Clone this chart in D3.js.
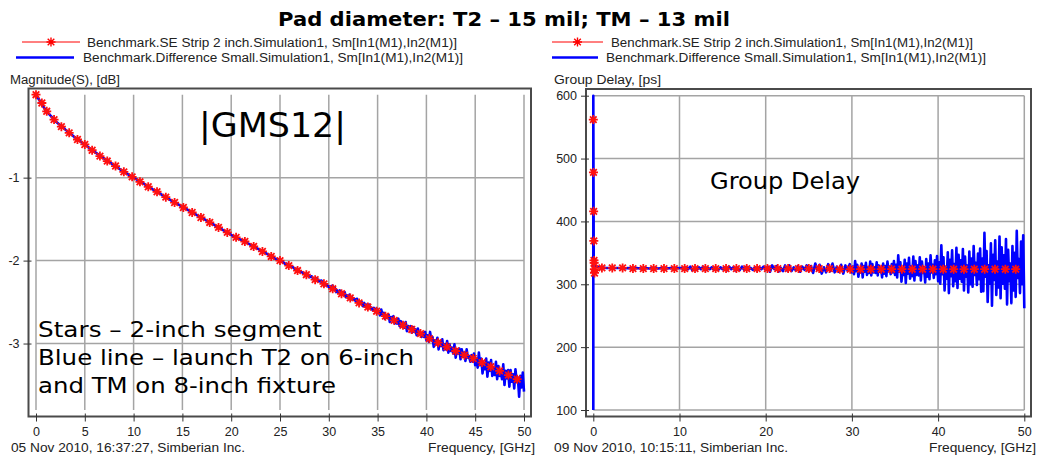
<!DOCTYPE html>
<html>
<head>
<meta charset="utf-8">
<script src="https://cdn.jsdelivr.net/npm/d3@7"></script>
<style>
  body { margin: 0; background: #fff; }
  text { font-family: "Liberation Sans", Arial, sans-serif; fill: #222; }
  .big { font-family: "DejaVu Sans", Verdana, sans-serif; fill: #000; }
</style>
</head>
<body>
<svg id="chart" width="1039" height="460"></svg>
<script>
// ---------- data: left panel |GMS12| (dB) ----------
const magTicksX = [0, 5, 10, 15, 20, 25, 30, 35, 40, 45, 50]
const magTicksY = [-1, -2, -3]
const magRedFreq = [0, 0.6, 1.1, 1.85, 2.6, 3.4, 4.25, 5.0, 5.75, 6.55, 7.3, 8.15, 9.0, 9.85, 10.65, 11.5, 12.4, 13.3, 14.2, 15.1,
  16.0, 16.9, 17.8, 18.7, 19.6, 20.5, 21.4, 22.3, 23.2, 24.1, 25.0, 25.9, 26.8, 27.7, 28.6, 29.5, 30.4, 31.3, 32.2, 33.1,
  34.0, 34.9, 35.8, 36.7, 37.6, 38.5, 39.4, 40.3, 41.2, 42.1, 43.0, 43.9, 44.8, 45.7, 46.6, 47.5, 48.4, 49.3]
const magRedDb = [0, -0.10, -0.20, -0.30, -0.385, -0.46, -0.54, -0.60, -0.67, -0.74, -0.80, -0.86, -0.93, -0.99, -1.05, -1.11, -1.17, -1.235, -1.30, -1.36,
  -1.42, -1.48, -1.54, -1.60, -1.66, -1.72, -1.77, -1.83, -1.89, -1.95, -2.00, -2.06, -2.12, -2.17, -2.23, -2.28, -2.34, -2.40, -2.45, -2.51,
  -2.56, -2.61, -2.67, -2.72, -2.78, -2.83, -2.88, -2.94, -2.99, -3.04, -3.09, -3.14, -3.18, -3.23, -3.28, -3.33, -3.38, -3.43]
// blue trace, smooth part (1 GHz spacing)
const magBlueFreqA = [0, 1, 2, 3, 4, 5, 6, 7, 8, 9, 10, 11, 12, 13, 14, 15, 16, 17, 18, 19, 20, 21, 22, 23, 24]
const magBlueDbA = [0, -0.19, -0.32, -0.42, -0.515, -0.60, -0.69, -0.77, -0.85, -0.93, -1.00, -1.07, -1.145, -1.215, -1.285, -1.35,
  -1.42, -1.485, -1.55, -1.62, -1.69, -1.75, -1.81, -1.875, -1.94]
// blue trace, 24.25 .. 30 GHz (0.25 GHz spacing)
const magBlueStartB = 24.25, magBlueStepB = 0.25
const magBlueDbB = [
  -1.95, -1.98, -1.98, -2.00, -2.01, -2.04, -2.04, -2.07, -2.07, -2.10, -2.10, -2.13, -2.14, -2.16, -2.16, -2.20,
  -2.19, -2.23, -2.21, -2.25, -2.24, -2.30, -2.29, -2.32]
// blue trace, noisy part 30.125 .. 50 GHz (0.125 GHz spacing)
const magBlueStartC = 30.125, magBlueStepC = 0.125
const magBlueDbC = [
  -2.31, -2.34, -2.30, -2.34, -2.33, -2.38, -2.36, -2.38, -2.36, -2.41, -2.38, -2.41, -2.38, -2.44, -2.42, -2.45, -2.41, -2.47, -2.44, -2.47,
  -2.46, -2.49, -2.46, -2.52, -2.49, -2.51, -2.50, -2.55, -2.51, -2.55, -2.53, -2.58, -2.53, -2.57, -2.57, -2.60, -2.57, -2.61, -2.58, -2.63,
  -2.61, -2.66, -2.59, -2.65, -2.63, -2.70, -2.66, -2.69, -2.65, -2.74, -2.68, -2.72, -2.67, -2.76, -2.72, -2.76, -2.70, -2.79, -2.73, -2.79,
  -2.76, -2.81, -2.74, -2.85, -2.79, -2.82, -2.79, -2.87, -2.80, -2.86, -2.83, -2.90, -2.82, -2.88, -2.87, -2.92, -2.87, -2.92, -2.86, -2.96,
  -2.90, -2.98, -2.86, -2.96, -2.92, -3.04, -2.96, -3.01, -2.93, -3.07, -2.97, -3.03, -2.95, -3.08, -3.01, -3.07, -2.97, -3.11, -3.01, -3.09,
  -3.05, -3.12, -3.01, -3.17, -3.07, -3.12, -3.06, -3.19, -3.07, -3.16, -3.11, -3.21, -3.07, -3.17, -3.15, -3.22, -3.14, -3.22, -3.12, -3.26,
  -3.18, -3.29, -3.11, -3.26, -3.18, -3.36, -3.24, -3.31, -3.18, -3.40, -3.23, -3.33, -3.20, -3.39, -3.29, -3.38, -3.22, -3.43, -3.27, -3.39,
  -3.33, -3.43, -3.25, -3.50, -3.33, -3.42, -3.32, -3.52, -3.32, -3.46, -3.37, -3.54, -3.31, -3.46, -3.41, -3.64, -3.39, -3.53, -3.35, -3.58]

// ---------- data: right panel group delay (ps) ----------
const gdTicksX = [0, 10, 20, 30, 40, 50]
const gdTicksY = [100, 200, 300, 400, 500, 600]
const gdRedFreq = [0, 0.02, 0.04, 0.06, 0.08, 0.10, 0.12, 0.14,
  1.0, 2.2, 3.4, 4.6, 5.8, 7.0, 8.2, 9.4, 10.6, 11.8, 13.0, 14.2, 15.4, 16.6, 17.8, 19.0, 20.2, 21.4, 22.6, 23.8,
  25.0, 26.2, 27.4, 28.6, 29.8, 31.0, 32.2, 33.4, 34.6, 35.8, 37.0, 38.2, 39.4, 40.6, 41.8, 43.0, 44.2, 45.4, 46.6, 47.8, 49.0]
const gdRedPs = [562, 478, 416, 369, 338, 334, 324, 318,
  326, 326, 326, 325, 325, 325, 325, 325, 325, 325, 325, 325, 325, 325, 325, 325, 325, 325, 325, 325,
  325, 325, 325, 324, 324, 324, 324, 324, 324, 324, 324, 324, 324, 324, 324, 324, 324, 324, 324, 324, 324]
// blue trace: spike at DC, then 0.5 GHz spacing to 10 GHz
const gdBlueHeadFreq = [0, 0, 0.05]
const gdBlueHeadPs = [100, 600, 330]
const gdBlueStartB = 0.5, gdBlueStepB = 0.5
const gdBluePsB = [328, 327, 326, 326, 326, 326, 325, 326, 325, 326, 325, 326, 325, 326, 325, 326, 325, 326, 325, 326]
// 10.25 .. 30 GHz, 0.25 GHz spacing
const gdBlueStartC = 10.25, gdBlueStepC = 0.25
const gdBluePsC = [
  326, 323, 327, 324, 328, 322, 325, 323, 327, 324, 328, 322, 326, 324, 327, 323, 326, 323, 327, 324,
  327, 322, 328, 324, 327, 322, 326, 323, 328, 323, 328, 323, 326, 323, 327, 322, 327, 324, 328, 323,
  328, 320, 330, 324, 329, 320, 326, 321, 330, 322, 330, 321, 327, 322, 329, 320, 328, 323, 330, 321,
  329, 318, 333, 323, 331, 317, 327, 319, 332, 321, 333, 319, 328, 320, 331, 317, 330, 322, 332, 319]
// 30.125 .. 50 GHz, 0.125 GHz spacing
const gdBlueStartD = 30.125, gdBlueStepD = 0.125
const gdBluePsD = [
  328, 316, 337, 321, 331, 312, 325, 319, 333, 311, 329, 320, 334, 315, 327, 318, 336, 314, 332, 319,
  327, 318, 335, 314, 330, 320, 326, 311, 333, 317, 329, 313, 336, 321, 328, 316, 332, 319, 337, 315,
  331, 311, 346, 320, 335, 304, 326, 315, 339, 302, 333, 317, 342, 309, 328, 313, 344, 306, 337, 315,
  330, 314, 343, 306, 336, 318, 327, 303, 340, 312, 333, 308, 346, 319, 331, 310, 338, 316, 345, 305,
  335, 301, 362, 316, 343, 290, 328, 309, 351, 286, 339, 313, 354, 297, 332, 305, 358, 294, 347, 309,
  338, 304, 356, 290, 344, 312, 330, 287, 352, 300, 341, 296, 361, 315, 334, 299, 349, 308, 357, 288,
  341, 289, 382, 312, 353, 272, 330, 301, 365, 266, 347, 307, 370, 283, 336, 295, 376, 278, 359, 301,
  346, 293, 372, 268, 355, 305, 333, 270, 361, 290, 350, 280, 385, 310, 340, 286, 368, 300, 378, 262]

const legendRed = 'Benchmark.SE Strip 2 inch.Simulation1, Sm[In1(M1),In2(M1)]'
const legendBlue = 'Benchmark.Difference Small.Simulation1, Sm[In1(M1),In2(M1)]'

// ---------- helpers ----------
const svg = d3.select('#chart')
const pairs = (xs, ys) => xs.map((f, i) => [f, ys[i]])
const stepped = (start, step, ys) => ys.map((v, i) => [start + i * step, v])
const starPath = 'M-4.5,0H4.5M0,-4.5V4.5M-3.3,-3.3L3.3,3.3M-3.3,3.3L3.3,-3.3'

function drawPanel(p) {
    const x = d3.scaleLinear().domain([0, 50]).range(p.xRange)
    const y = d3.scaleLinear().domain(p.yDomain).range(p.yRange)
    const g = svg.append('g')
    const yTop = p.yRange[1], yBot = p.yRange[0]

    // grid
    g.selectAll('.vg').data(p.ticksX).join('line')
        .attr('x1', d => x(d)).attr('x2', d => x(d)).attr('y1', yTop).attr('y2', yBot)
        .attr('stroke', '#a4a4a4').attr('stroke-width', 1.5)
    g.selectAll('.hg').data(p.ticksY).join('line')
        .attr('x1', p.xRange[0]).attr('x2', p.xRange[1]).attr('y1', d => y(d)).attr('y2', d => y(d))
        .attr('stroke', '#a4a4a4').attr('stroke-width', 1.5)

    // frame
    const f = p.frame
    g.append('rect').attr('x', f[0]).attr('y', f[1]).attr('width', f[2] - f[0]).attr('height', f[3] - f[1])
        .attr('fill', 'none').attr('stroke', '#4a4a4a').attr('stroke-width', 2)

    // axes (ticks cross the frame)
    const fmt = d => String(d)
    const ax = g.append('g').attr('transform', `translate(${f[0] + 3},0)`)
        .call(d3.axisLeft(y).tickValues(p.ticksY).tickFormat(fmt).tickSize(8).tickPadding(4))
    const bx = g.append('g').attr('transform', `translate(0,${f[3] - 3})`)
        .call(d3.axisBottom(x).tickValues(p.ticksX).tickFormat(fmt).tickSize(8).tickPadding(6))
    for (const a of [ax, bx]) {
        a.select('.domain').remove()
        a.selectAll('line').attr('stroke', '#333')
        a.selectAll('text').attr('font-size', 12.5).attr('fill', '#222')
            .attr('font-family', '"Liberation Sans", Arial, sans-serif')
    }

    const line = d3.line().x(d => x(d[0])).y(d => y(d[1]))
    g.append('path').attr('d', line(p.red)).attr('fill', 'none').attr('stroke', '#ff0000').attr('stroke-width', 1)
    g.append('path').attr('d', line(p.blue)).attr('fill', 'none').attr('stroke', '#0000ff')
        .attr('stroke-width', 2.6).attr('stroke-linejoin', 'round')
    g.selectAll('.star').data(p.red).join('path')
        .attr('transform', d => `translate(${x(d[0])},${y(d[1])})`)
        .attr('d', starPath).attr('stroke', '#ff1010').attr('stroke-width', 1.8).attr('fill', 'none')

    // legend
    const L = p.legend
    g.append('line').attr('x1', L.red[0]).attr('x2', L.red[1]).attr('y1', 42).attr('y2', 42)
        .attr('stroke', '#ff0000').attr('stroke-width', 1)
    g.append('path').attr('transform', `translate(${(L.red[0] + L.red[1]) / 2},42)`)
        .attr('d', starPath).attr('stroke', '#ff0000').attr('stroke-width', 1.4)
    g.append('text').attr('x', L.red[2]).attr('y', 47).attr('font-size', 12.5)
        .attr('textLength', L.red[3]).attr('lengthAdjust', 'spacingAndGlyphs').text(legendRed)
    g.append('line').attr('x1', L.blue[0]).attr('x2', L.blue[1]).attr('y1', 57.5).attr('y2', 57.5)
        .attr('stroke', '#0000ff').attr('stroke-width', 2.5)
    g.append('text').attr('x', L.blue[2]).attr('y', 62).attr('font-size', 12.5)
        .attr('textLength', L.blue[3]).attr('lengthAdjust', 'spacingAndGlyphs').text(legendBlue)

    // axis captions and footer
    g.append('text').attr('x', p.yLabel[0]).attr('y', 84).attr('font-size', 12.5)
        .attr('textLength', p.yLabel[2]).attr('lengthAdjust', 'spacingAndGlyphs').text(p.yLabel[1])
    g.append('text').attr('x', p.footer[0]).attr('y', 452).attr('font-size', 12.5)
        .attr('textLength', p.footer[2]).attr('lengthAdjust', 'spacingAndGlyphs').text(p.footer[1])
    g.append('text').attr('x', p.freqEnd).attr('y', 452).attr('font-size', 12.5).attr('text-anchor', 'end')
        .attr('textLength', 107).attr('lengthAdjust', 'spacingAndGlyphs').text('Frequency, [GHz]')
}

drawPanel({
    xRange: [36, 524], yDomain: [-3.8, 0], yRange: [409.9, 94.7],
    frame: [28.5, 88.5, 531, 416.5],
    ticksX: magTicksX, ticksY: magTicksY,
    red: pairs(magRedFreq, magRedDb),
    blue: pairs(magBlueFreqA, magBlueDbA)
        .concat(stepped(magBlueStartB, magBlueStepB, magBlueDbB))
        .concat(stepped(magBlueStartC, magBlueStepC, magBlueDbC)),
    legend: { red: [22, 80, 87, 370], blue: [16, 74, 83, 380] },
    yLabel: [10, 'Magnitude(S), [dB]', 110],
    footer: [11, '05 Nov 2010, 16:37:27, Simberian Inc.', 234],
    freqEnd: 535
})

drawPanel({
    xRange: [593.3, 1024.3], yDomain: [100, 600], yRange: [410, 95.7],
    frame: [586, 89, 1031, 416.5],
    ticksX: gdTicksX, ticksY: gdTicksY,
    red: pairs(gdRedFreq, gdRedPs),
    blue: pairs(gdBlueHeadFreq, gdBlueHeadPs)
        .concat(stepped(gdBlueStartB, gdBlueStepB, gdBluePsB))
        .concat(stepped(gdBlueStartC, gdBlueStepC, gdBluePsC))
        .concat(stepped(gdBlueStartD, gdBlueStepD, gdBluePsD)),
    legend: { red: [552, 603, 611, 362], blue: [552, 598, 606, 380] },
    yLabel: [554, 'Group Delay, [ps]', 107],
    footer: [554, '09 Nov 2010, 10:15:11, Simberian Inc.', 234],
    freqEnd: 1036
})

// ---------- title and annotations ----------
svg.append('text').attr('class', 'big').attr('x', 278).attr('y', 26)
    .attr('font-size', 19).attr('font-weight', 'bold')
    .attr('textLength', 452).attr('lengthAdjust', 'spacingAndGlyphs')
    .text('Pad diameter: T2 \u2013 15 mil; TM \u2013 13 mil')
svg.append('text').attr('class', 'big').attr('x', 199).attr('y', 137).attr('font-size', 34)
    .attr('textLength', 147).attr('lengthAdjust', 'spacingAndGlyphs').text('|GMS12|')
svg.append('text').attr('class', 'big').attr('x', 710).attr('y', 189).attr('font-size', 22.5)
    .attr('textLength', 150).attr('lengthAdjust', 'spacingAndGlyphs').text('Group Delay')
const notes = [
    ['Stars \u2013 2-inch segment', 284],
    ['Blue line \u2013 launch T2 on 6-inch', 376],
    ['and TM on 8-inch fixture', 298]
]
svg.selectAll('.note').data(notes).join('text').attr('class', 'big')
    .attr('x', 38).attr('y', (d, i) => 337 + i * 28).attr('font-size', 22)
    .attr('textLength', d => d[1]).attr('lengthAdjust', 'spacingAndGlyphs')
    .text(d => d[0])
</script>
</body>
</html>
